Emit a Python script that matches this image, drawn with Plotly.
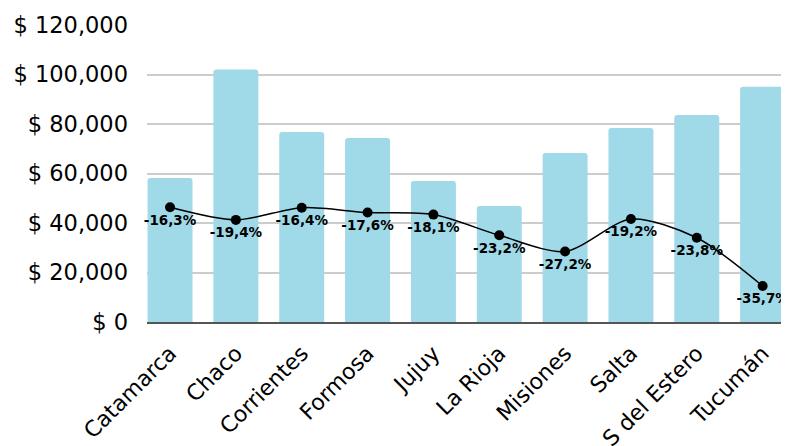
import plotly.graph_objects as go

provincias = ["Catamarca", "Chaco", "Corrientes", "Formosa", "Jujuy",
              "La Rioja", "Misiones", "Salta", "S del Estero", "Tucumán"]
montos = [58200, 102000, 76800, 74300, 57000, 46900, 68300, 78400, 83600, 95000]
variacion = [-16.3, -19.4, -16.4, -17.6, -18.1, -23.2, -27.2, -19.2, -23.8, -35.7]
y_ticks = [0, 20000, 40000, 60000, 80000, 100000, 120000]
y_tick_labels = ["$ 0", "$ 20,000", "$ 40,000", "$ 60,000", "$ 80,000", "$ 100,000", "$ 120,000"]

etiquetas = [f"{v:.1f}%".replace(".", ",") for v in variacion]

FONT = "DejaVu Sans"

fig = go.Figure()
fig.add_trace(go.Bar(
    x=provincias, y=montos,
    marker=dict(color="#A0D9E8", line=dict(width=0), cornerradius=3),
    width=0.683, showlegend=False, hoverinfo="skip",
))
fig.add_trace(go.Scatter(
    x=provincias, y=variacion, yaxis="y2",
    mode="lines+markers+text",
    line=dict(color="#000000", width=1.5, shape="spline", smoothing=0.8),
    marker=dict(color="#000000", size=10),
    text=etiquetas, textposition="bottom center",
    textfont=dict(family=FONT, size=13.5, color="#000000", weight="bold"),
    showlegend=False, cliponaxis=False,
))

# page body has an 8px default margin, so the figure is sized to fit the window
fig.update_layout(
    width=781, height=438,
    margin=dict(l=138.5, r=3, t=17, b=124, autoexpand=False),
    paper_bgcolor="white", plot_bgcolor="white",
    font=dict(family=FONT, color="#000000"),
    xaxis=dict(
        range=[-0.35, 9.355], tickangle=-45, automargin=False,
        tickfont=dict(family=FONT, size=22, color="#000000"),
        showline=True, linecolor="#555555", linewidth=1.5, layer="below traces",
        showgrid=False, ticks="", fixedrange=True, ticklabelstandoff=8,
    ),
    yaxis=dict(
        range=[0, 120000], tickvals=y_ticks, ticktext=y_tick_labels,
        tickfont=dict(family=FONT, size=22.5, color="#000000"), automargin=False,
        showgrid=True, gridcolor="#CCCCCC", gridwidth=1.5, layer="below traces",
        zeroline=False, ticks="", ticklabelstandoff=18,
    ),
    yaxis2=dict(
        overlaying="y", range=[-44.57, 28.63], visible=False,
        showgrid=False, zeroline=False,
    ),
    bargap=0.32,
)

fig.write_html("out.html")
